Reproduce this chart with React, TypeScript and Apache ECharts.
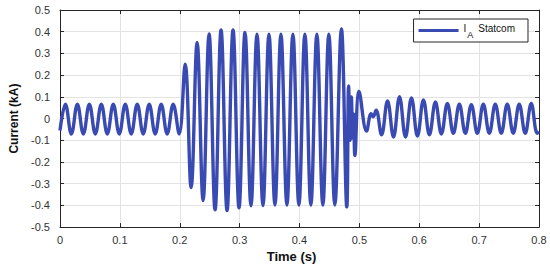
import React, { useEffect, useRef } from "react";
import * as echarts from "echarts";

// Time ticks (s) and current ticks (kA)
const timeTicks = [0, 0.1, 0.2, 0.3, 0.4, 0.5, 0.6, 0.7, 0.8];
const currentTicks = [-0.5, -0.4, -0.3, -0.2, -0.1, 0, 0.1, 0.2, 0.3, 0.4, 0.5];

// Waveform extrema: [time (s), current (kA)]
const preFault: [number, number][] = [
  [0, -0.055], [0.009, 0.066], [0.019, -0.071], [0.029, 0.066], [0.039, -0.071],
  [0.049, 0.066], [0.059, -0.071], [0.069, 0.066], [0.079, -0.071], [0.089, 0.066],
  [0.099, -0.071], [0.109, 0.066], [0.119, -0.071], [0.129, 0.066], [0.139, -0.071],
  [0.149, 0.066], [0.159, -0.071], [0.169, 0.066], [0.179, -0.071], [0.189, 0.066],
  [0.199, -0.071],
];

const faultPeriod: [number, number][] = [
  [0.209, 0.25], [0.219, -0.318], [0.229, 0.35], [0.239, -0.378], [0.249, 0.39],
  [0.259, -0.42], [0.269, 0.408], [0.279, -0.424], [0.289, 0.408], [0.299, -0.411],
  [0.309, 0.397], [0.319, -0.402], [0.329, 0.389], [0.339, -0.401], [0.349, 0.389],
  [0.359, -0.398], [0.369, 0.388], [0.379, -0.398], [0.389, 0.388], [0.399, -0.398],
  [0.409, 0.388], [0.419, -0.398], [0.429, 0.388], [0.439, -0.398], [0.449, 0.388],
  [0.459, -0.398], [0.47, 0.413], [0.479, -0.407],
];

const clearingTransient: [number, number][] = [
  [0.482, 0.15], [0.4845, -0.1], [0.4865, 0.1], [0.489, -0.09], [0.4905, 0.02],
  [0.4925, -0.17], [0.4995, 0.125], [0.512, -0.058], [0.5195, 0.022], [0.523, 0.008],
  [0.528, 0.038], [0.537, -0.075],
];

const postFault: [number, number][] = [
  [0.547, 0.081], [0.557, -0.085], [0.567, 0.101], [0.577, -0.085], [0.587, 0.095],
  [0.597, -0.081], [0.607, 0.086], [0.617, -0.075], [0.627, 0.076], [0.637, -0.071],
  [0.647, 0.069], [0.657, -0.068], [0.667, 0.066], [0.677, -0.068], [0.687, 0.064],
  [0.697, -0.068], [0.707, 0.066], [0.717, -0.068], [0.727, 0.066], [0.737, -0.068],
  [0.747, 0.066], [0.757, -0.068], [0.767, 0.066], [0.777, -0.068], [0.787, 0.069],
  [0.797, -0.068], [0.8, -0.06],
];

const seriesName = "IA Statcom";
const FONT = "'Liberation Sans', Arial, sans-serif";
const LINE_COLOR = "#3a4ab3";
const AXIS_COLOR = "#262626";

export default function App() {
  const ref = useRef<HTMLDivElement>(null);

  useEffect(() => {
    if (!ref.current) return;
    const chart = echarts.init(ref.current, undefined, { renderer: "svg" });
    const data = [...preFault, ...faultPeriod, ...clearingTransient, ...postFault];
    const xMin = timeTicks[0];
    const xMax = timeTicks[timeTicks.length - 1];
    const yMin = currentTicks[0];
    const yMax = currentTicks[currentTicks.length - 1];

    const baseX = {
      type: "value",
      min: xMin,
      max: xMax,
      interval: 0.1,
      axisLine: { show: true, onZero: false, lineStyle: { color: AXIS_COLOR, width: 1 } },
      axisTick: { show: true, inside: true, length: 4, lineStyle: { color: AXIS_COLOR } },
    };
    const baseY = {
      type: "value",
      min: yMin,
      max: yMax,
      interval: 0.1,
      axisLine: { show: true, onZero: false, lineStyle: { color: AXIS_COLOR, width: 1 } },
      axisTick: { show: true, inside: true, length: 4, lineStyle: { color: AXIS_COLOR } },
    };

    chart.setOption({
      animation: false,
      backgroundColor: "#ffffff",
      textStyle: { fontFamily: FONT },
      grid: { left: 58, right: 11, top: 10, bottom: 30, containLabel: false },
      legend: {
        show: true,
        data: [seriesName],
        right: 22,
        top: 19,
        orient: "horizontal",
        itemWidth: 40,
        itemHeight: 3,
        itemGap: 5,
        padding: [3, 13, 3, 5],
        backgroundColor: "#ffffff",
        borderColor: AXIS_COLOR,
        borderWidth: 1,
        borderRadius: 0,
        icon: "rect",
        formatter: () => "{n|I}{s|A}{g| }{n|Statcom}",
        textStyle: {
          fontFamily: FONT,
          color: "#111",
          rich: {
            n: { fontSize: 10, fontFamily: FONT, color: "#111", lineHeight: 14, verticalAlign: "top" },
            s: { fontSize: 9, fontFamily: FONT, color: "#111", padding: [8, 0, 0, 1], lineHeight: 14 },
            g: { fontSize: 10, width: 5 },
          },
        },
      },
      xAxis: [
        {
          ...baseX,
          position: "bottom",
          name: "Time (s)",
          nameLocation: "middle",
          nameGap: 17,
          nameTextStyle: { fontFamily: FONT, fontSize: 13, fontWeight: "bold", color: "#111", padding: [0, 16, 0, 0] },
          axisLabel: { show: true, fontFamily: FONT, fontSize: 11, color: "#333", margin: 7 },
          splitLine: { show: true, lineStyle: { color: "#e3e3e3", width: 1 } },
        },
        {
          ...baseX,
          position: "top",
          axisLabel: { show: false },
          splitLine: { show: false },
        },
      ],
      yAxis: [
        {
          ...baseY,
          position: "left",
          name: "Current (kA)",
          nameLocation: "middle",
          nameGap: 40,
          nameTextStyle: { fontFamily: FONT, fontSize: 12, fontWeight: "bold", color: "#111" },
          axisLabel: { show: true, fontFamily: FONT, fontSize: 11, color: "#333", margin: 10 },
          splitLine: { show: true, lineStyle: { color: "#e3e3e3", width: 1 } },
        },
        {
          ...baseY,
          position: "right",
          axisLabel: { show: false },
          splitLine: { show: false },
        },
      ],
      series: [
        {
          name: seriesName,
          type: "line",
          xAxisIndex: 0,
          yAxisIndex: 0,
          data,
          showSymbol: false,
          symbol: "none",
          smooth: 0.4,
          lineStyle: { color: LINE_COLOR, width: 3.4 },
          itemStyle: { color: LINE_COLOR },
        },
      ],
    });

    return () => chart.dispose();
  }, []);

  return (
    <div
      ref={ref}
      style={{ position: "fixed", left: 0, top: 0, width: 550, height: 268, background: "#fff" }}
    />
  );
}
